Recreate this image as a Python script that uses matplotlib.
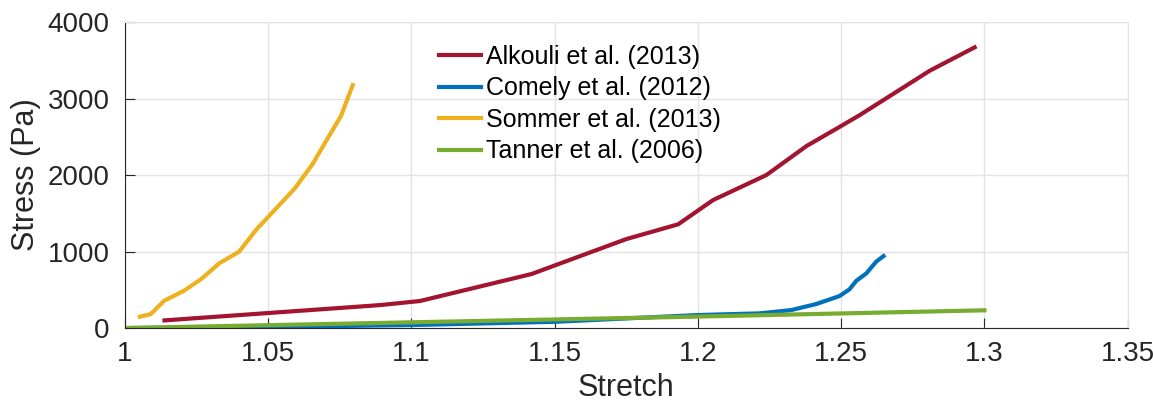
import matplotlib
matplotlib.use("Agg")
from matplotlib import pyplot as plt

plt.rcParams['font.family'] = ['Liberation Sans', 'DejaVu Sans']

# Alkouli et al. (2013)
alkouli_x = [1.0138, 1.089, 1.1029, 1.1419, 1.1750, 1.1931, 1.2053, 1.2239,
             1.2379, 1.2500, 1.2565, 1.2681, 1.2809, 1.2966]
alkouli_y = [100, 300, 353, 706, 1163, 1356, 1673, 2000,
             2379, 2641, 2784, 3059, 3363, 3669]

# Comely et al. (2012)
comely_x = [1.0, 1.05, 1.1, 1.1504, 1.2, 1.2216, 1.2326, 1.2413, 1.2494,
            1.2529, 1.2553, 1.2588, 1.2622, 1.2648]
comely_y = [0, 15, 39, 82, 170, 192, 235, 314, 418,
            506, 618, 715, 867, 941]

# Sommer et al. (2013)
sommer_x = [1.0052, 1.0090, 1.0137, 1.0206, 1.0265, 1.0329, 1.0398, 1.0460,
            1.0506, 1.0593, 1.0655, 1.0704, 1.0754, 1.0795]
sommer_y = [148, 183, 357, 488, 637, 846, 997, 1294,
            1477, 1826, 2144, 2458, 2771, 3176]

# Tanner et al. (2006)
tanner_x = [1.0, 1.1, 1.2, 1.3]
tanner_y = [0, 75, 150, 232]

fig = plt.figure(figsize=(11.53, 4.04), dpi=100)
ax = fig.add_axes([0.1084, 0.188, 0.8696, 0.7575])

ax.plot(alkouli_x, alkouli_y, color='#A2142F', lw=3, label='Alkouli et al. (2013)')
ax.plot(comely_x, comely_y, color='#0072BD', lw=3, label='Comely et al. (2012)')
ax.plot(sommer_x, sommer_y, color='#EDB120', lw=3, label='Sommer et al. (2013)')
ax.plot(tanner_x, tanner_y, color='#77AC30', lw=3, label='Tanner et al. (2006)')

ax.set_xlim(1, 1.35)
ax.set_ylim(0, 4000)
ax.set_xticks([1, 1.05, 1.1, 1.15, 1.2, 1.25, 1.3, 1.35])
ax.set_xticklabels(['1', '1.05', '1.1', '1.15', '1.2', '1.25', '1.3', '1.35'])
ax.set_yticks([0, 1000, 2000, 3000, 4000])

ax.grid(True, color='#e3e3e3', lw=1)
ax.set_axisbelow(True)
for s in ['top', 'right']:
    ax.spines[s].set_color('#e3e3e3')
for s in ['left', 'bottom']:
    ax.spines[s].set_color('#262626')
ax.tick_params(direction='in', length=7, labelsize=20, colors='#262626',
               top=False, right=False)
ax.tick_params(axis='x', pad=9)
ax.tick_params(axis='y', pad=11)

ax.set_xlabel('Stretch', fontsize=22, color='#262626', labelpad=5)
ax.set_ylabel('Stress (Pa)', fontsize=22, color='#262626', labelpad=5)

ax.legend(loc='upper left', bbox_to_anchor=(0.313, 0.925), frameon=False,
          fontsize=18, handlelength=1.7, handletextpad=0.2, labelspacing=0.3,
          borderaxespad=0, borderpad=0)

fig.savefig('out.png')
